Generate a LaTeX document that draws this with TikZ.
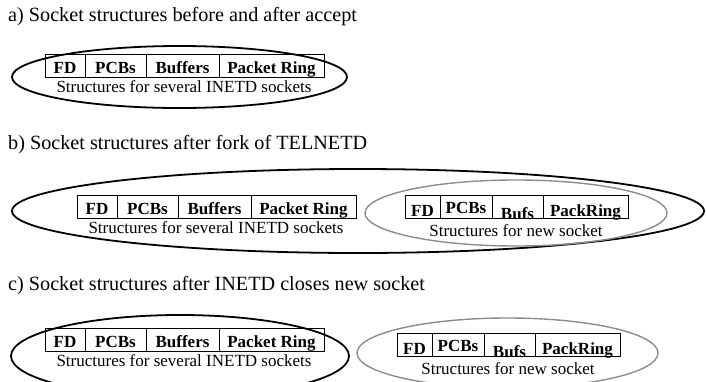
\documentclass[tikz,border=0pt]{standalone}
\usepackage{fontspec}
\setmainfont{Liberation Serif}
\tikzset{
  lbl/.style={font=\fontsize{17}{20}\selectfont, inner sep=0pt, anchor=base},
  cellt/.style={font=\fontsize{17}{20}\selectfont\bfseries, inner sep=0pt, anchor=base},
  ttl/.style={font=\fontsize{20.2}{24}\selectfont, inner sep=0pt, anchor=base west},
  blackell/.style={draw=black, line width=1.8pt},
  grayell/.style={draw=black!45, line width=1.4pt},
  tblline/.style={draw=black, line width=0.9pt},
}
\newcommand\sockleft[3]{% name, x0, y0
  \draw[tblline] (#2,#3) rectangle ({#2+279},{#3+23});
  \draw[tblline] ({#2+40},#3) -- ({#2+40},{#3+23});
  \draw[tblline] ({#2+101},#3) -- ({#2+101},{#3+23});
  \draw[tblline] ({#2+174},#3) -- ({#2+174},{#3+23});
  \node[cellt] (#1-fd) at ({#2+20},{#3+19}) {FD};
  \node[cellt] (#1-pcb) at ({#2+70.5},{#3+19}) {PCBs};
  \node[cellt] (#1-buf) at ({#2+137.5},{#3+19}) {Buffers};
  \node[cellt] (#1-ring) at ({#2+226.5},{#3+19}) {Packet Ring};
  \node[lbl] (#1-cap) at ({#2+139},{#3+38}) {Structures for several INETD sockets};
}
\newcommand\sockright[3]{% name, x0, y0
  \draw[tblline] (#2,#3) rectangle ({#2+223},{#3+23});
  \draw[tblline] ({#2+35},#3) -- ({#2+35},{#3+23});
  \draw[tblline] ({#2+87},#3) -- ({#2+87},{#3+23});
  \draw[tblline] ({#2+138},#3) -- ({#2+138},{#3+23});
  \node[cellt] (#1-fd) at ({#2+17.5},{#3+21}) {FD};
  \node[cellt] (#1-pcb) at ({#2+61},{#3+18}) {PCBs};
  \node[cellt] (#1-buf) at ({#2+112.5},{#3+24.5}) {Bufs};
  \node[cellt] (#1-ring) at ({#2+180.5},{#3+21}) {PackRing};
  \node[lbl] (#1-cap) at ({#2+111},{#3+41}) {Structures for new socket};
}
\begin{document}
\begin{tikzpicture}[x=1pt,y=-1pt]
\useasboundingbox (0,0) rectangle (706,381);
\clip (0,0) rectangle (706,381);
% titles
\node[ttl] (ta) at (8,21) {a) Socket structures before and after accept};
\node[ttl] (tb) at (8,149) {b) Socket structures after fork of TELNETD};
\node[ttl] (tc) at (8,290) {c) Socket structures after INETD closes new socket};
% a
\draw[blackell] (179.5,77) ellipse [x radius=167.5, y radius=31];
\sockleft{a}{45}{54}
% b
\draw[blackell] (358,211) ellipse [x radius=346, y radius=42];
\draw[grayell] (516,213) ellipse [x radius=151, y radius=33];
\sockleft{bl}{77}{195}
\sockright{br}{405}{195}
% c
\draw[blackell] (180,356) ellipse [x radius=169, y radius=41];
\draw[grayell] (507.5,353) ellipse [x radius=150.5, y radius=35];
\sockleft{cl}{45}{328}
\sockright{cr}{397}{333}
\end{tikzpicture}
\end{document}
